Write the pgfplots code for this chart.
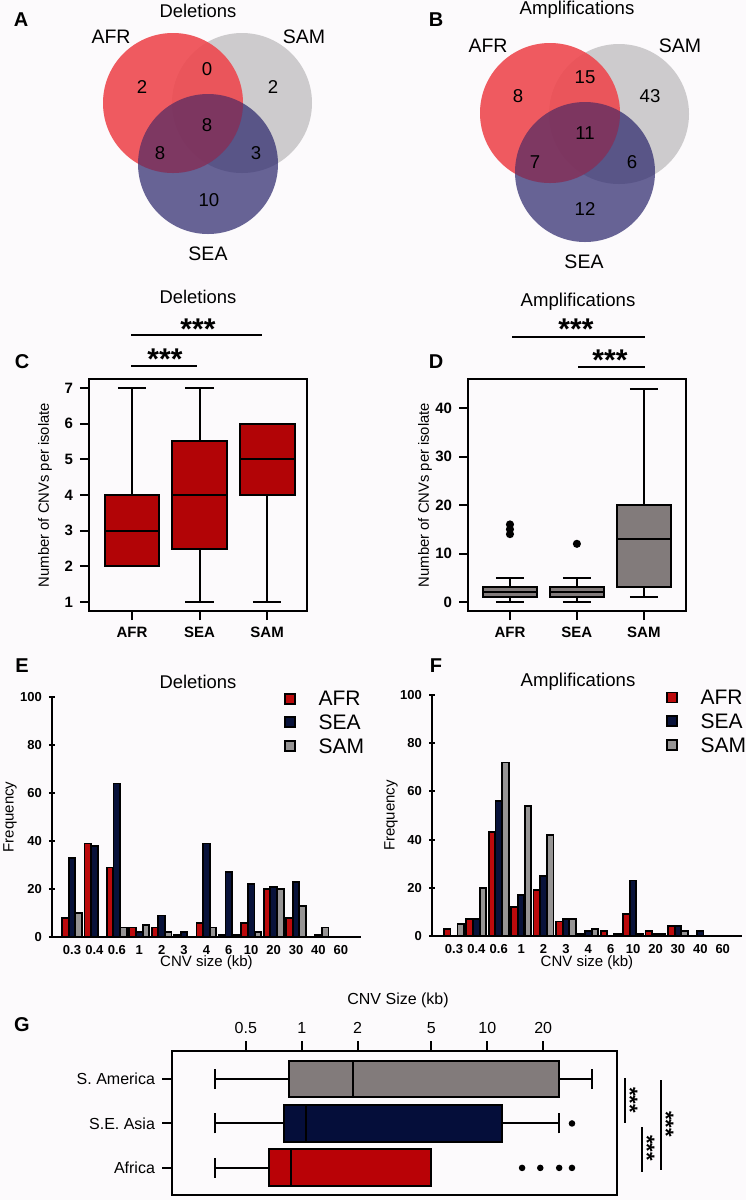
\documentclass[border=0pt]{standalone}
\usepackage{fontspec}
\setmainfont{Liberation Sans}
\usepackage{pgfplots}
\pgfplotsset{compat=1.18}
\usepgfplotslibrary{statistics}

\definecolor{bgc}{RGB}{252,250,252}
\definecolor{vennafr}{RGB}{238,70,76}
\definecolor{vennsam}{RGB}{205,203,205}
\definecolor{vennsea}{RGB}{40,35,106}
\definecolor{boxred}{RGB}{178,4,6}
\definecolor{boxgrey}{RGB}{130,123,123}
\definecolor{barred}{RGB}{188,10,12}
\definecolor{barnavy}{RGB}{8,18,58}
\definecolor{bargrey}{RGB}{150,148,148}
\definecolor{gred}{RGB}{185,2,6}
\definecolor{gnavy}{RGB}{5,14,58}
\definecolor{ggrey}{RGB}{130,123,123}

\newcommand{\fs}[1]{\fontsize{#1}{#1}\selectfont}

\pgfplotsset{
  panel/.style={scale only axis, anchor=south west,
    axis line style={line width=1pt}, tick style={line width=1pt, black},
    tick align=outside, /pgf/number format/assume math mode=true},
  boxpanel/.style={panel, xtick pos=left, ytick pos=left, major tick length=4.5pt,
    xtick={1,2,3}, xticklabels={AFR,SEA,SAM},
    ticklabel style={font=\fs{7.5}\bfseries},
    ylabel={Number of CNVs per isolate},
    ylabel style={font=\fs{7.4}, anchor=center},
    boxplot/draw direction=y, boxplot/whisker extend=0.42,
    every axis plot/.append style={draw=black, line width=1pt}},
  histpanel/.style={panel, axis lines=left, axis line style={-},
    ymin=0, ymax=100, ytick={0,20,...,100},
    xtick={0,...,12}, xticklabels={0.3,0.4,0.6,1,2,3,4,6,10,20,30,40,60},
    xtick style={draw=none}, major tick length=3pt,
    ticklabel style={font=\fs{6.5}\bfseries}, xticklabel style={yshift=2.5pt},
    ylabel={Frequency}, ylabel style={font=\fs{7.5}, anchor=center},
    xlabel={CNV size (kb)}, xlabel style={font=\fs{7.5}, anchor=center},
    ybar, bar width=0.29,
    every axis plot/.append style={draw=black, line width=0.9pt},
    legend image code/.code={\draw[#1, draw=black, line width=0.8pt] (0pt,-2.5pt) rectangle (5pt,2.5pt);},
    legend style={anchor=north west, draw=none, fill=none, inner sep=0pt, outer sep=0pt,
      row sep=4.5pt, cells={anchor=west}, nodes={inner sep=0pt, text depth=0pt},
      font=\fs{10.5}, /tikz/every odd column/.style={column sep=11.5pt}}},
  venn/.style={only marks, mark=*, mark size=35pt},
}

\begin{document}
\begin{tikzpicture}
\fill[bgc] (0pt,0pt) rectangle (373pt,-600pt);
\path[use as bounding box] (0pt,0pt) rectangle (373pt,-600pt);

% A, B: Venn diagrams (pixel coordinates)
\begin{axis}[at={(0pt,-140pt)}, anchor=south west, width=373pt, height=140pt, scale only axis,
  hide axis, clip=false, xmin=0, xmax=746, ymin=0, ymax=280, y dir=reverse]
\addplot[venn, mark options={fill=vennsam, draw opacity=0}]
  coordinates {(242,103) (619,114)};
\addplot[venn, mark options={fill=vennafr, fill opacity=0.85, draw opacity=0}]
  coordinates {(173,103) (550,113)};
\addplot[venn, mark options={fill=vennsea, fill opacity=0.7, draw opacity=0}]
  coordinates {(208,164) (585,172)};
\addplot[venn, mark options={fill=vennafr, fill opacity=0.2, draw opacity=0}]
  coordinates {(173,103) (550,113)};
\end{axis}

% C
\begin{axis}[boxpanel, at={(44.5pt,-305.5pt)}, width=109pt, height=116pt,
  xmin=0.363, xmax=3.59, ymin=0.75, ymax=7.25, ytick={1,...,7},
  ylabel style={at={(axis description cs:-0.202,0.5)}},
  boxplot/box extend=0.81]
\addplot[boxplot prepared={lower whisker=2, lower quartile=2, median=3, upper quartile=4, upper whisker=7, draw position=1},
  boxplot/every box/.style={fill=boxred}] coordinates {};
\addplot[boxplot prepared={lower whisker=1, lower quartile=2.5, median=4, upper quartile=5.5, upper whisker=7, draw position=2},
  boxplot/every box/.style={fill=boxred}] coordinates {};
\addplot[boxplot prepared={lower whisker=1, lower quartile=4, median=5, upper quartile=6, upper whisker=6, draw position=3},
  boxplot/every box/.style={fill=boxred}] coordinates {};
\end{axis}

% D
\begin{axis}[boxpanel, at={(234pt,-305.5pt)}, width=109pt, height=116pt,
  xmin=0.373, xmax=3.63, ymin=-1.86, ymax=46, ytick={0,10,20,30,40},
  ylabel style={at={(axis description cs:-0.197,0.5)}},
  boxplot/box extend=0.8,
  every axis plot/.append style={mark=*, mark size=1.5pt, mark options={fill=black, draw=black}}]
\addplot[boxplot prepared={lower whisker=0, lower quartile=1, median=2, upper quartile=3, upper whisker=5, draw position=1},
  boxplot/every box/.style={fill=boxgrey}] table[row sep=\\, y index=0] {14\\ 15\\ 16\\};
\addplot[boxplot prepared={lower whisker=0, lower quartile=1, median=2, upper quartile=3, upper whisker=5, draw position=2},
  boxplot/every box/.style={fill=boxgrey}] table[row sep=\\, y index=0] {12\\};
\addplot[boxplot prepared={lower whisker=1, lower quartile=3, median=13, upper quartile=20, upper whisker=44, draw position=3},
  boxplot/every box/.style={fill=boxgrey}] coordinates {};
\end{axis}

% E
\begin{axis}[histpanel, at={(26pt,-468.5pt)}, width=154.5pt, height=120pt,
  xmin=-0.893, xmax=12.9,
  ylabel style={at={(axis description cs:-0.136,0.5)}},
  xlabel style={at={(axis description cs:0.5,-0.108)}},
  legend style={at={(axis description cs:0.751,1.023)}}]
\addplot[fill=barred, bar shift=-0.3] coordinates {
  (0,8) (1,39) (2,29) (3,4) (4,4) (5,1) (6,6) (7,1) (8,6) (9,20) (10,8) (11,0) (12,0)};
\addplot[fill=barnavy, bar shift=0] coordinates {
  (0,33) (1,38) (2,64) (3,2) (4,9) (5,2) (6,39) (7,27) (8,22) (9,21) (10,23) (11,1) (12,0)};
\addplot[fill=bargrey, bar shift=0.3] coordinates {
  (0,10) (1,0) (2,4) (3,5) (4,2) (5,0) (6,4) (7,1) (8,2) (9,20) (10,13) (11,4) (12,0)};
\legend{AFR,SEA,SAM}
\end{axis}

% F
\begin{axis}[histpanel, at={(216pt,-468pt)}, width=155pt, height=120.5pt,
  xmin=-0.98, xmax=12.86,
  ylabel style={at={(axis description cs:-0.132,0.5)}},
  xlabel style={at={(axis description cs:0.5,-0.112)}},
  legend style={at={(axis description cs:0.755,1.019)}}]
\addplot[fill=barred, bar shift=-0.3] coordinates {
  (0,3) (1,7) (2,43) (3,12) (4,19) (5,6) (6,1) (7,2) (8,9) (9,2) (10,4) (11,0) (12,0)};
\addplot[fill=barnavy, bar shift=0] coordinates {
  (0,0) (1,7) (2,56) (3,17) (4,25) (5,7) (6,2) (7,0) (8,23) (9,1) (10,4) (11,2) (12,0)};
\addplot[fill=bargrey, bar shift=0.3] coordinates {
  (0,5) (1,20) (2,72) (3,54) (4,42) (5,7) (6,3) (7,1) (8,1) (9,1) (10,2) (11,0) (12,0)};
\legend{AFR,SEA,SAM}
\end{axis}

% G
\begin{axis}[panel, at={(86pt,-597.5pt)}, width=222.5pt, height=72pt,
  xmode=log, xmin=0.2, xmax=50, ymin=0.39, ymax=3.63,
  xtick={0.5,1,2,5,10,20}, xticklabels={0.5,1,2,5,10,20}, xminorticks=false,
  xtick pos=upper, xticklabel pos=upper, ytick pos=left,
  ytick={1,2,3}, yticklabels={Africa,S.E. Asia,S. America},
  major tick length=5pt, ticklabel style={font=\fs{8}},
  xlabel={CNV Size (kb)}, xlabel style={font=\fs{8}, at={(axis description cs:0.508,1.354)}, anchor=center},
  boxplot/draw direction=x, boxplot/box extend=0.83, boxplot/whisker extend=0.45,
  every axis plot/.append style={draw=black, line width=1pt, mark=*, mark size=1.1pt, mark options={fill=black, draw=black}}]
\addplot[boxplot prepared={lower whisker=0.34, lower quartile=0.665, median=0.88, upper quartile=5, upper whisker=5, draw position=1},
  boxplot/every box/.style={fill=gred}] table[row sep=\\, y index=0] {15.4\\ 19.3\\ 24.4\\ 28.6\\};
\addplot[boxplot prepared={lower whisker=0.34, lower quartile=0.8, median=1.06, upper quartile=12, upper whisker=24.4, draw position=2},
  boxplot/every box/.style={fill=gnavy}] table[row sep=\\, y index=0] {28.6\\};
\addplot[boxplot prepared={lower whisker=0.34, lower quartile=0.85, median=1.88, upper quartile=24.4, upper whisker=36.7, draw position=3},
  boxplot/every box/.style={fill=ggrey}] coordinates {};
\end{axis}

% texts and significance marks, in pixel coordinates
\begin{scope}[x=0.5pt, y=-0.5pt]
\node[font=\fs{10}\bfseries] at (21,20) {A};
\node[font=\fs{9.2}] at (198,11) {Deletions};
\node[font=\fs{9.75}] at (111,37) {AFR};
\node[font=\fs{9.75}] at (304,37) {SAM};
\node[font=\fs{9.75}] at (208,254) {SEA};
\begin{scope}[every node/.style={font=\fs{9.3}}]
\node at (142,87) {2};
\node at (207,69) {0};
\node at (273,87) {2};
\node at (207,125) {8};
\node at (160,153) {8};
\node at (256,153) {3};
\node at (209,200) {10};
\end{scope}

\node[font=\fs{10}\bfseries] at (436,20) {B};
\node[font=\fs{9.3}] at (577,10) {Amplifications};
\node[font=\fs{9.75}] at (488,46) {AFR};
\node[font=\fs{9.75}] at (680,46) {SAM};
\node[font=\fs{9.75}] at (584,262) {SEA};
\begin{scope}[every node/.style={font=\fs{9.3}}]
\node at (518,96) {8};
\node at (585,77) {15};
\node at (650,96) {43};
\node at (585,133) {11};
\node at (535,162) {7};
\node at (632,162) {6};
\node at (585,209) {12};
\end{scope}

\node[font=\fs{10}\bfseries] at (22,362) {C};
\node[font=\fs{9.2}] at (198,297) {Deletions};
\draw[line width=1pt] (131,335) -- (262,335);
\draw[line width=1pt] (131,366) -- (197,366);
\node[font=\fs{15}\bfseries, anchor=base] at (198,339) {***};
\node[font=\fs{15}\bfseries, anchor=base] at (165,369) {***};

\node[font=\fs{10}\bfseries] at (436,362) {D};
\node[font=\fs{9.3}] at (578,302) {Amplifications};
\draw[line width=1pt] (512,337) -- (645,337);
\draw[line width=1pt] (578,367) -- (645,367);
\node[font=\fs{15}\bfseries, anchor=base] at (576,339) {***};
\node[font=\fs{15}\bfseries, anchor=base] at (610,370) {***};

\node[font=\fs{10}\bfseries] at (22,666) {E};
\node[font=\fs{9.2}] at (198,682) {Deletions};
\node[font=\fs{10}\bfseries] at (436,666) {F};
\node[font=\fs{9.3}] at (578,682) {Amplifications};

\node[font=\fs{10}\bfseries] at (22,1025) {G};
\draw[line width=1pt] (625,1078) -- (625,1123);
\draw[line width=1pt] (642,1127) -- (642,1172);
\draw[line width=1pt] (661,1080) -- (661,1170);
\node[font=\fs{11}\bfseries, rotate=-90] at (630,1100) {***};
\node[font=\fs{11}\bfseries, rotate=-90] at (647,1148) {***};
\node[font=\fs{11}\bfseries, rotate=-90] at (666,1124) {***};
\end{scope}
\end{tikzpicture}
\end{document}
